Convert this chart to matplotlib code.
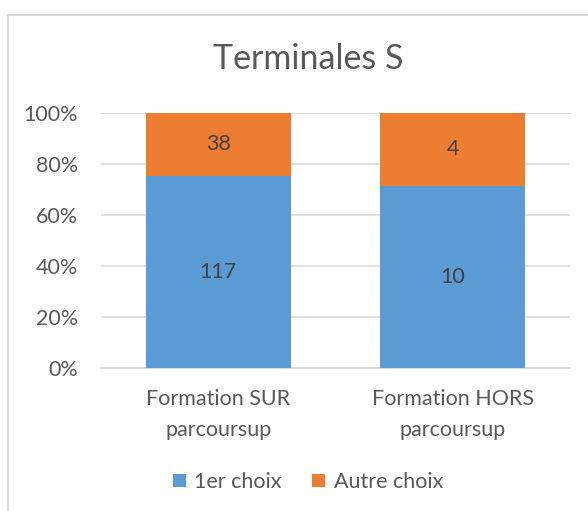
import matplotlib.pyplot as plt
from matplotlib.patches import Rectangle
from matplotlib.ticker import PercentFormatter

# data
categories = ['Formation SUR\nparcoursup', 'Formation HORS\nparcoursup']
premier_choix = [117, 10]
autre_choix = [38, 4]
series_names = ['1er choix', 'Autre choix']
colors = ['#5B9BD5', '#ED7D31']

plt.rcParams['font.family'] = ['Lato', 'DejaVu Sans']

totals = [a + b for a, b in zip(premier_choix, autre_choix)]
pct1 = [a / t * 100 for a, t in zip(premier_choix, totals)]
pct2 = [b / t * 100 for b, t in zip(autre_choix, totals)]

fig = plt.figure(figsize=(5.88, 5.11), dpi=100)
ax = fig.add_axes([101 / 588, 1 - 368 / 511, 469 / 588, 255 / 511])

x = list(range(len(categories)))
b1 = ax.bar(x, pct1, width=0.62, color=colors[0], label=series_names[0], zorder=3)
b2 = ax.bar(x, pct2, width=0.62, bottom=pct1, color=colors[1], label=series_names[1], zorder=3)

for bars, vals, bottoms in [(b1, premier_choix, [0, 0]), (b2, autre_choix, pct1)]:
    for rect, v, bot in zip(bars, vals, bottoms):
        ax.text(rect.get_x() + rect.get_width() / 2, bot + rect.get_height() / 2, str(v),
                ha='center', va='center', fontsize=15.5, color='#404040')

ax.set_xlim(-0.5, 1.5)
ax.set_ylim(0, 100)
ax.set_yticks([0, 20, 40, 60, 80, 100])
ax.yaxis.set_major_formatter(PercentFormatter(decimals=0))
ax.set_xticks(x)
ax.set_xticklabels(categories, fontsize=15.5, color='#595959', linespacing=1.7)
ax.tick_params(axis='y', labelsize=15.5, labelcolor='#595959', length=0, pad=16.5)
ax.tick_params(axis='x', length=0, pad=15)
ax.grid(axis='y', color='#D9D9D9', linewidth=1.2, zorder=0)
for s in ['top', 'right', 'left']:
    ax.spines[s].set_visible(False)
ax.spines['bottom'].set_color('#D9D9D9')
ax.spines['bottom'].set_linewidth(1.2)

fig.text(308 / 588, 1 - 59 / 511, 'Terminales S', ha='center', va='center',
         fontsize=24.5, color='#595959')

fig.legend(loc='center', bbox_to_anchor=(308 / 588, 1 - 482 / 511), ncol=2, frameon=False,
           fontsize=15.5, labelcolor='#595959', handlelength=0.6, handleheight=0.6,
           handletextpad=0.4, columnspacing=1.4)

# chart border (left and top visible)
fig.patches.append(Rectangle((8 / 588, -0.1), 1.2, 1 - 15 / 511 + 0.1, transform=fig.transFigure,
                             fill=False, edgecolor='#D9D9D9', linewidth=1.5))

fig.savefig('out.png', dpi=100)
